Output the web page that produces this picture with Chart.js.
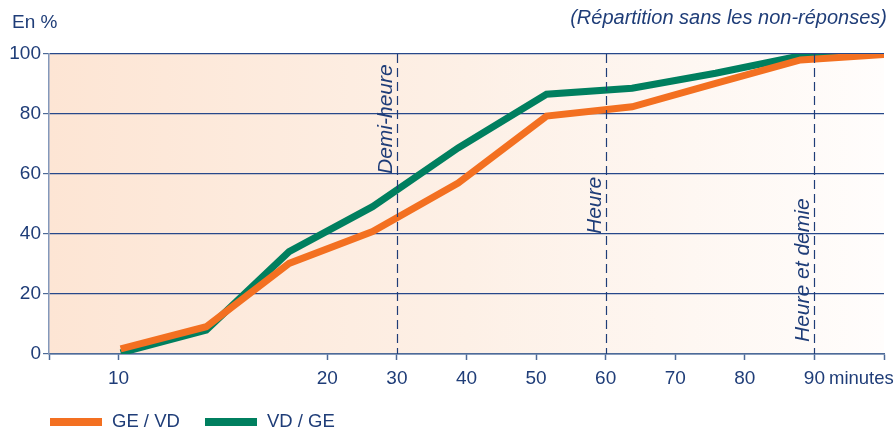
<!DOCTYPE html>
<html>
<head>
<meta charset="utf-8">
<script src="https://cdn.jsdelivr.net/npm/chart.js@4.4.0/dist/chart.umd.min.js"></script>
<style>
    html, body { margin: 0; padding: 0; background: #fff; }
    #wrap { width: 894px; height: 430px; }
</style>
</head>
<body>
<div id="wrap"><canvas id="timeChart" width="894" height="430"></canvas></div>
<script>
// positions sur l'axe (l'axe du graphique original n'est pas linéaire avant 20 min)
const positions = [1.03, 2.26, 3.45, 4.65, 5.88, 7.15, 8.38, 9.58, 10.8, 12];
const geVd = [1.7, 9.1, 30.2, 40.8, 57, 79.3, 82.4, 90.2, 98, 99.8];
const vdGe = [0.4, 8, 34.1, 49.1, 68.7, 86.6, 88.6, 93.6, 99.4, 100];

const tickPositions = [0, 1, 4, 5, 6, 7, 8, 9, 10, 11, 12];
const tickLabels = ['', '10', '20', '30', '40', '50', '60', '70', '80', '90', ''];

const markerPositions = [5, 8, 11];
const markerLabels = ['Demi-heure', 'Heure', 'Heure et demie'];

const NAVY = '#1f3d78';
const FONT = '"Liberation Sans", Arial, sans-serif';

const toPoints = (ys) => ys.map((y, i) => ({ x: positions[i], y: y }));

// fond dégradé de la zone du graphique
const backgroundPlugin = {
    id: 'bgGradient',
    beforeDraw(chart) {
        const { ctx, chartArea: a } = chart;
        const g = ctx.createLinearGradient(a.left, 0, a.right, 0);
        g.addColorStop(0, '#fde5d4');
        g.addColorStop(0.5, '#fdf0e6');
        g.addColorStop(1, '#fffdfc');
        ctx.save();
        ctx.fillStyle = g;
        ctx.fillRect(a.left, a.top, a.right - a.left, a.bottom - a.top);
        ctx.restore();
    }
};

// lignes pointillées demi-heure / heure / heure et demie
const markersPlugin = {
    id: 'markers',
    afterDatasetsDraw(chart, args, opts) {
        const { ctx, chartArea: a } = chart;
        const xs = chart.scales.x, ys = chart.scales.y;
        ctx.save();
        markerPositions.forEach((pos, i) => {
            const x = Math.round(xs.getPixelForValue(pos)) + 0.5;
            ctx.strokeStyle = NAVY;
            ctx.lineWidth = 1.2;
            ctx.setLineDash([9, 5]);
            ctx.beginPath();
            ctx.moveTo(x, a.top);
            ctx.lineTo(x, a.bottom);
            ctx.stroke();

            ctx.setLineDash([]);
            ctx.save();
            ctx.translate(x - 6, ys.getPixelForValue(opts.labelAt[i]));
            ctx.rotate(-Math.PI / 2);
            ctx.fillStyle = NAVY;
            ctx.font = 'italic 21px ' + FONT;
            ctx.textAlign = 'left';
            ctx.textBaseline = 'alphabetic';
            ctx.fillText(markerLabels[i], 0, 0);
            ctx.restore();
        });
        ctx.restore();
    }
};

// textes libres et légende
const textsPlugin = {
    id: 'texts',
    afterDraw(chart) {
        const { ctx } = chart;
        ctx.save();
        ctx.fillStyle = NAVY;
        ctx.textBaseline = 'middle';

        ctx.font = '19px ' + FONT;
        ctx.textAlign = 'left';
        ctx.fillText('En %', 12, 23);

        ctx.font = 'italic 20px ' + FONT;
        ctx.textAlign = 'right';
        ctx.fillText('(Répartition sans les non-réponses)', 887, 18);

        ctx.font = '18.5px ' + FONT;
        ctx.textAlign = 'left';
        ctx.fillText('minutes', 829, 379);

        // légende
        const legendX = [50, 205];
        chart.data.datasets.forEach((ds, i) => {
            const x0 = legendX[i];
            ctx.strokeStyle = ds.borderColor;
            ctx.lineWidth = 8;
            ctx.beginPath();
            ctx.moveTo(x0, 422);
            ctx.lineTo(x0 + 52, 422);
            ctx.stroke();
            ctx.fillStyle = NAVY;
            ctx.font = '18.5px ' + FONT;
            ctx.fillText(ds.label, x0 + 62, 422);
        });
        ctx.restore();
    }
};

const ctx = document.getElementById('timeChart').getContext('2d');
new Chart(ctx, {
    type: 'line',
    data: {
        datasets: [
            {
                label: 'GE / VD',
                data: toPoints(geVd),
                borderColor: '#f37021',
                backgroundColor: '#f37021',
                borderWidth: 7,
                pointRadius: 0,
                tension: 0,
            },
            {
                label: 'VD / GE',
                data: toPoints(vdGe),
                borderColor: '#007f5f',
                backgroundColor: '#007f5f',
                borderWidth: 7,
                pointRadius: 0,
                tension: 0,
            },
        ],
    },
    options: {
        responsive: false,
        animation: false,
        devicePixelRatio: 1,
        layout: { padding: { top: 54, right: 10, bottom: 0, left: 0 } },
        plugins: {
            legend: { display: false },
            tooltip: { enabled: false },
            markers: { labelAt: [60, 40, 4] },
        },
        scales: {
            x: {
                type: 'linear',
                min: 0,
                max: 12,
                afterFit: (s) => { s.height = 76; },
                afterBuildTicks: (s) => { s.ticks = tickPositions.map(v => ({ value: v })); },
                ticks: {
                    autoSkip: false,
                    maxRotation: 0,
                    padding: 7,
                    color: NAVY,
                    font: { family: FONT, size: 19 },
                    callback: (v) => tickLabels[tickPositions.indexOf(v)] ?? '',
                },
                grid: {
                    drawOnChartArea: false,
                    drawTicks: true,
                    tickLength: 6,
                    tickColor: '#4d6a98',
                    tickWidth: 1.5,
                },
                border: { display: true, color: '#4d6a98', width: 1.5 },
            },
            y: {
                min: 0,
                max: 100,
                afterFit: (s) => { s.width = 49; },
                ticks: {
                    stepSize: 20,
                    padding: 2,
                    color: NAVY,
                    font: { family: FONT, size: 19 },
                },
                grid: {
                    color: '#27488a',
                    lineWidth: 1.2,
                    tickLength: 6,
                    tickColor: '#4d6a98',
                },
                border: { display: true, color: '#8398bb', width: 1.5 },
            },
        },
    },
    plugins: [backgroundPlugin, markersPlugin, textsPlugin],
});
</script>
</body>
</html>
